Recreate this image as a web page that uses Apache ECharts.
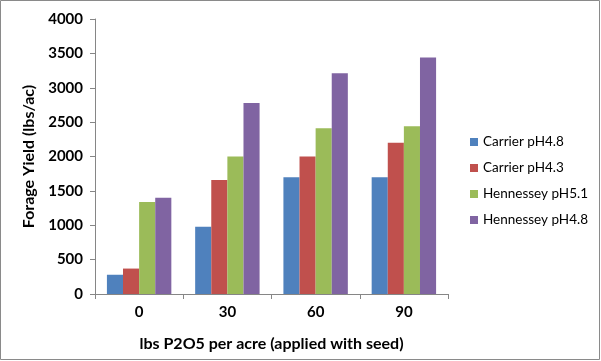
<!DOCTYPE html>
<html><head><meta charset="utf-8">
<script src="https://cdn.jsdelivr.net/npm/echarts@6/dist/echarts.min.js"></script>
<style>html,body{margin:0;padding:0;background:#fff}#c{width:601px;height:361px}</style>
</head><body><div id="c"></div>
<script>
var categories = ['0', '30', '60', '90'];
var seriesNames = ['Carrier pH4.8', 'Carrier pH4.3', 'Hennessey pH5.1', 'Hennessey pH4.8'];
var carrier48 = [280, 980, 1700, 1700];
var carrier43 = [370, 1660, 2000, 2200];
var hennessey51 = [1340, 2000, 2410, 2440];
var hennessey48 = [1400, 2780, 3210, 3440];
var colors = ['#4F81BD', '#C0504D', '#9BBB59', '#8064A2'];

var values = [carrier48, carrier43, hennessey51, hennessey48];
var font = 'Lato, "Open Sans", sans-serif';
var chart = echarts.init(document.getElementById('c'), null, {renderer: 'canvas'});
chart.setOption({
  animation: false,
  backgroundColor: '#fff',
  textStyle: {fontFamily: font},
  graphic: [{type: 'rect', shape: {x: 0.5, y: 0.5, width: 599, height: 359}, style: {fill: 'none', stroke: '#8a8a8a', lineWidth: 1}}],
  grid: {left: 95, right: 153, top: 19, bottom: 67},
  legend: {
    orient: 'vertical', left: 465, top: 130, itemWidth: 8, itemHeight: 8, itemGap: 12,
    icon: 'rect',
    textStyle: {fontFamily: font, fontSize: 13.5, color: '#000'},
    data: seriesNames
  },
  xAxis: {
    type: 'category', data: categories,
    name: 'lbs P2O5 per acre (applied with seed)', nameLocation: 'middle', nameGap: 42,
    nameTextStyle: {fontFamily: font, fontSize: 16, fontWeight: 'bold', color: '#000'},
    axisLine: {lineStyle: {color: '#868686'}},
    axisTick: {show: true, length: 5, lineStyle: {color: '#868686'}},
    axisLabel: {fontFamily: font, fontSize: 15, fontWeight: 'bold', color: '#000', margin: 11}
  },
  yAxis: {
    type: 'value', min: 0, max: 4000, interval: 500,
    name: 'Forage Yield (lbs/ac)', nameLocation: 'middle', nameGap: 58, nameRotate: 90,
    nameTextStyle: {fontFamily: font, fontSize: 16, fontWeight: 'bold', color: '#000'},
    axisLine: {show: true, lineStyle: {color: '#868686'}},
    axisTick: {show: true, length: 5, lineStyle: {color: '#868686'}},
    splitLine: {show: false},
    axisLabel: {fontFamily: font, fontSize: 15, fontWeight: 'bold', color: '#000', margin: 12,
      formatter: function (v) { return String(v); }}
  },
  series: seriesNames.map(function (n, i) {
    return {name: n, type: 'bar', data: values[i], barGap: '0%', barCategoryGap: '27%',
      itemStyle: {color: colors[i]}};
  })
});
</script></body></html>
